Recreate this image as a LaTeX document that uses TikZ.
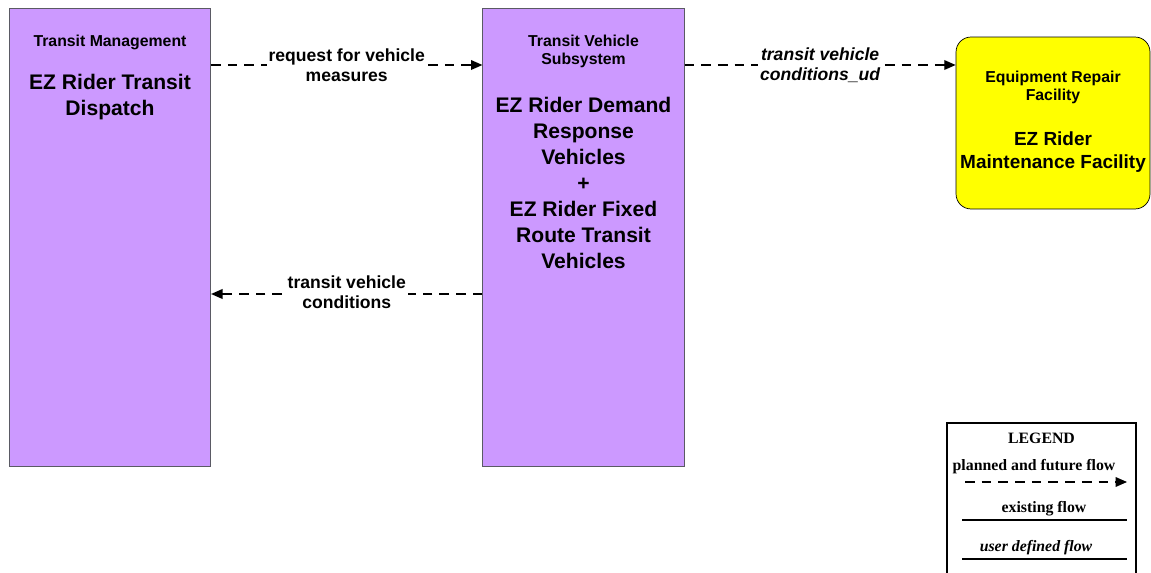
\documentclass[tikz,border=0pt]{standalone}
\usepackage{fontspec}
\setmainfont{Liberation Sans}
\newfontfamily\legendfont{Liberation Serif}
\usepackage{xcolor}
\usetikzlibrary{arrows.meta, positioning}
\definecolor{sysviolet}{RGB}{204,153,255}
\definecolor{sysborder}{RGB}{90,90,100}
\definecolor{extyellow}{RGB}{255,255,0}

\begin{document}
\begin{tikzpicture}[
      x=0.02cm, y=-0.02cm,
      sys/.style={draw=sysborder, fill=sysviolet, inner sep=0pt,
                  minimum width=4.03cm, minimum height=9.16cm},
      term/.style={draw=black, fill=extyellow, rounded corners=0.3cm, inner sep=0pt,
                   minimum width=3.88cm, minimum height=3.44cm},
      cls/.style={align=center, font=\fontsize{9}{10.3}\selectfont\bfseries},
      inst/.style={align=center, font=\fontsize{12}{14.8}\selectfont\bfseries},
      flowlbl/.style={align=center, fill=white, inner sep=1pt,
                      font=\fontsize{10}{11.4}\selectfont\bfseries},
      flow/.style={draw, line width=0.8pt, dash pattern=on 5.5pt off 4pt,
                   -{Triangle[length=6.5pt, width=5.5pt]}},
      lgd/.style={font=\fontsize{9}{10}\selectfont\legendfont\bfseries}
    ]
    \useasboundingbox (0,0) rectangle (1151,573);

    % subsystems and terminator
    \node[sys] (tm)  at (110,237)   {};
    \node[sys] (tvs) at (583.5,237) {};
    \node[term] (erf) at (1053,123) {};

    \node[cls]  (tmcls)  at (110,42)   {Transit Management};
    \node[inst] (tminst) at (110,97)   {EZ Rider Transit\\Dispatch};
    \node[cls]  (tvscls)  at (583.5,51) {Transit Vehicle\\Subsystem};
    \node[inst] (tvsinst) at (583.5,183)
      {EZ Rider Demand\\Response\\Vehicles\\+\\EZ Rider Fixed\\Route Transit\\Vehicles};
    \node[cls]  (erfcls)  at (1053,87.5) {Equipment Repair\\Facility};
    \node[inst, font=\fontsize{10.8}{13.2}\selectfont\bfseries] (erfinst) at (1053,152)
      {EZ Rider\\Maintenance Facility};

    % flows
    \coordinate (toprow) at (0,65);
    \coordinate (lowrow) at (0,294);
    \draw[flow] (tm.east |- toprow) -- node[flowlbl] (req) {request for vehicle\\measures}
      (tvs.west |- toprow);
    \draw[flow] (tvs.west |- lowrow) -- node[flowlbl, yshift=1pt] (cond) {transit vehicle\\conditions}
      (tm.east |- lowrow);
    \draw[flow] (tvs.east |- toprow) -- node[flowlbl, font=\fontsize{10}{11.4}\selectfont\bfseries\itshape]
      (condud) {transit vehicle\\conditions\_ud} (erf.west |- toprow);

    % legend
    \draw[line width=0.9pt] (947,423) rectangle (1136,590);
    \node[lgd] (lgdhead) at (1041.5,438) {LEGEND};
    \node[lgd] (lgdplan) at (1034,467) {planned and future flow};
    \node[lgd] (lgdexist) at (1044,509) {existing flow};
    \node[lgd, font=\fontsize{9}{10}\selectfont\legendfont\bfseries\itshape] (lgduser) at (1036,548) {user defined flow};
    \coordinate (plana) at (965,482);
    \coordinate (planb) at (1127,482);
    \coordinate (exista) at (962,520);
    \coordinate (existb) at (1127,520);
    \coordinate (usera) at (962,559);
    \coordinate (userb) at (1127,559);
    \draw[flow] (plana) -- (planb);
    \draw[line width=0.8pt] (exista) -- (existb);
    \draw[line width=0.8pt] (usera) -- (userb);
  \end{tikzpicture}
\end{document}
